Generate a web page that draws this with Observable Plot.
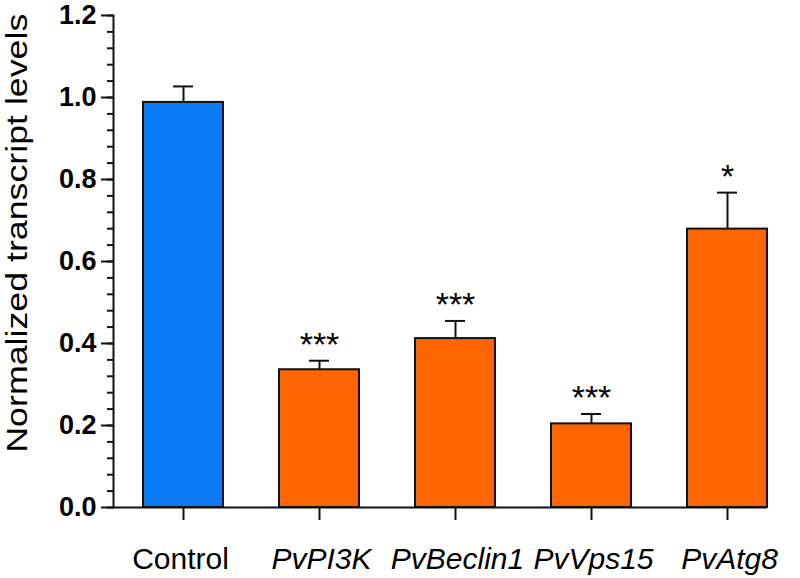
<!DOCTYPE html>
<html>
<head>
<meta charset="utf-8">
<script src="https://cdn.jsdelivr.net/npm/d3@7"></script>
<script src="https://cdn.jsdelivr.net/npm/@observablehq/plot@0.6"></script>
<style>
  html, body { margin: 0; padding: 0; background: #fff; }
  svg { font-family: "Liberation Sans", Arial, sans-serif; }
</style>
</head>
<body>
<div id="chart"></div>
<script>
const categories = ["Control", "PvPI3K", "PvBeclin1", "PvVps15", "PvAtg8"];
const means = [0.988, 0.336, 0.412, 0.204, 0.679];
const errors = [0.039, 0.022, 0.043, 0.024, 0.089];
const significance = ["", "***", "***", "***", "*"];
const groups = ["control", "gene", "gene", "gene", "gene"];
const majorTicks = [0, 0.2, 0.4, 0.6, 0.8, 1.0, 1.2];
const minorTicks = d3.range(0, 61).map(i => i * 0.04).filter(v => v <= 1.2001);
const yTitle = "Normalized transcript levels";

const data = categories.map((c, i) => ({
  name: c, mean: means[i], err: errors[i], sig: significance[i], group: groups[i]
}));

const plot = Plot.plot({
  width: 800,
  height: 578,
  marginLeft: 113,
  marginRight: 33,
  marginTop: 15,
  marginBottom: 71,
  style: { fontFamily: "'Liberation Sans', Arial, sans-serif", background: "#fff", color: "#000" },
  x: { domain: categories, paddingInner: 0.415, paddingOuter: 0.102, align: 1, axis: null },
  y: { domain: [0, 1.2], axis: null },
  color: { domain: ["control", "gene"], range: ["#0a7af2", "#fd6502"] },
  marks: [
    Plot.barY(data, { x: "name", y: "mean", fill: "group", stroke: "#111", strokeWidth: 2 }),
    Plot.ruleX(data, { x: "name", y1: "mean", y2: d => d.mean + d.err, stroke: "#111", strokeWidth: 2 }),
    Plot.tickY(data, { x: "name", y: d => d.mean + d.err, insetLeft: 30, insetRight: 30, stroke: "#111", strokeWidth: 2 }),
    Plot.text(data, { x: "name", y: d => d.mean + d.err, text: "sig", fontSize: 34, lineAnchor: "middle", dy: -16, fill: "#000" }),
    // y axis line
    Plot.frame({ anchor: "left", stroke: "#111", strokeWidth: 2 }),
    // x axis line
    Plot.ruleY([0], { stroke: "#111", strokeWidth: 2 }),
    // y axis ticks
    Plot.axisY(minorTicks, { tickSize: 6, tickFormat: () => "", strokeWidth: 2, stroke: "#111", label: null }),
    Plot.axisY(majorTicks, { tickSize: 12, tickPadding: 5, tickFormat: d3.format(".1f"), fontSize: 27, fontWeight: "bold", strokeWidth: 2, stroke: "#111", fill: "#000", label: null }),
    // x axis ticks
    Plot.axisX({ tickSize: 13, tickFormat: () => "", strokeWidth: 2, stroke: "#111", label: null }),
    // x labels
    Plot.text(data.filter(d => d.group === "control"), { x: "name", y: 0, text: "name", fontSize: 30, lineAnchor: "top", dy: 40, dx: -3, fill: "#000" }),
    Plot.text(data.filter(d => d.group !== "control"), { x: "name", y: 0, text: "name", fontSize: 30, fontStyle: "italic", lineAnchor: "top", dy: 40, dx: 2, fill: "#000" }),
    // y title
    Plot.text([yTitle], { y: [0.669], text: d => d, frameAnchor: "left", textAnchor: "middle", rotate: -90, fontSize: 30, lineAnchor: "middle", dx: -96, fill: "#000" })
  ]
});

document.getElementById("chart").appendChild(plot);

// stretch the y title to the reference's length
d3.select(plot).selectAll("text").filter(function() { return this.textContent === yTitle; })
  .attr("textLength", 439).attr("lengthAdjust", "spacingAndGlyphs");
</script>
</body>
</html>
